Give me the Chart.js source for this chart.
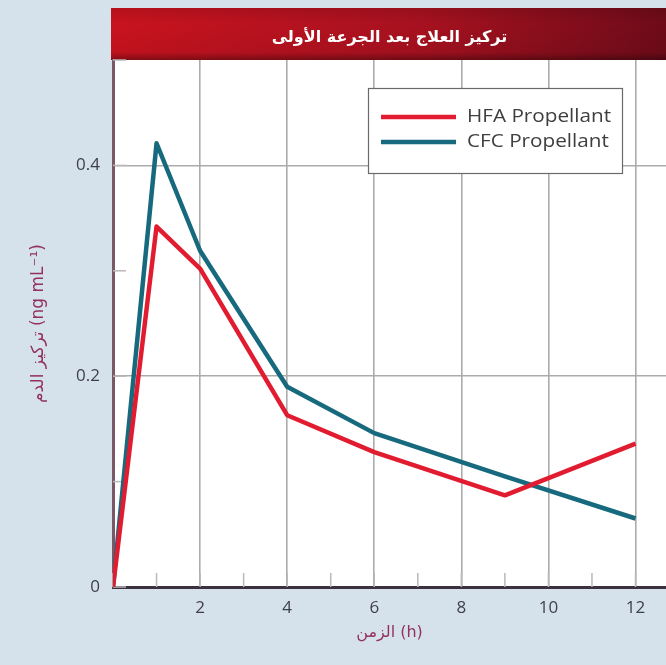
<!DOCTYPE html>
<html>
<head>
<meta charset="utf-8">
<script src="https://cdn.jsdelivr.net/npm/chart.js@4.4.1/dist/chart.umd.min.js"></script>
<style>
html, body { margin: 0; padding: 0; background: #d5e2ec; }
</style>
</head>
<body>
<canvas id="concChart" width="666" height="665"></canvas>
<script>
// values
var hours = [0, 1, 2, 4, 6, 9, 12];
var hfaValues = [0, 0.342, 0.302, 0.163, 0.128, 0.087, 0.136];
var cfcValues = [0, 0.421, 0.319, 0.19, 0.146, 0.105, 0.065];
var seriesNames = ["HFA Propellant", "CFC Propellant"];
var seriesColors = ["#e21c30", "#17697d"];
var xTickLabels = [2, 4, 6, 8, 10, 12];
var yTickLabels = [0, 0.2, 0.4];
var chartTitle = "تركيز العلاج بعد الجرعة الأولى";
var xTitle = "الزمن (h)";
var yTitle = "تركيز الدم (ng mL⁻¹)";

function toPoints(xs, ys) {
    return xs.map(function (x, i) { return { x: x, y: ys[i] }; });
}

function isLabelled(list, v) {
    return list.some(function (t) { return Math.abs(t - v) < 1e-9; });
}

var framePlugin = {
    id: "frame",
    beforeDraw: function (chart) {
        var c = chart.ctx, a = chart.chartArea;
        c.save();
        c.fillStyle = "#d5e2ec";
        c.fillRect(0, 0, chart.width, chart.height);
        c.fillStyle = "#ffffff";
        c.fillRect(a.left, a.top, a.right - a.left, a.bottom - a.top);

        // red title bar
        var g = c.createLinearGradient(a.left, 0, chart.width, 0);
        g.addColorStop(0, "#c9131f");
        g.addColorStop(0.55, "#a8111f");
        g.addColorStop(1, "#6f0b19");
        c.fillStyle = g;
        c.fillRect(a.left - 2, 8, chart.width - a.left + 2, a.top - 8);
        var v = c.createLinearGradient(0, 8, 0, a.top);
        v.addColorStop(0, "rgba(0,0,0,0.1)");
        v.addColorStop(0.3, "rgba(0,0,0,0)");
        v.addColorStop(0.85, "rgba(0,0,0,0.05)");
        v.addColorStop(1, "rgba(0,0,0,0.35)");
        c.fillStyle = v;
        c.fillRect(a.left - 2, 8, chart.width - a.left + 2, a.top - 8);

        c.fillStyle = "#ffffff";
        c.font = "bold 16px 'DejaVu Sans'";
        c.textAlign = "center";
        c.textBaseline = "middle";
        c.fillText(chartTitle, (a.left + chart.width) / 2, 38);
        c.restore();
    },
    beforeDatasetsDraw: function (chart) {
        // short inner tick marks along both axes
        var c = chart.ctx, a = chart.chartArea;
        var xs = chart.scales.x, ys = chart.scales.y;
        c.save();
        c.strokeStyle = "#b9b9b9";
        c.lineWidth = 1.5;
        xs.ticks.forEach(function (t) {
            var px = xs.getPixelForValue(t.value);
            c.beginPath();
            c.moveTo(px, a.bottom);
            c.lineTo(px, a.bottom - 14);
            c.stroke();
        });
        ys.ticks.forEach(function (t) {
            var py = ys.getPixelForValue(t.value);
            c.beginPath();
            c.moveTo(a.left, py);
            c.lineTo(a.left + 13, py);
            c.stroke();
        });
        c.restore();
    },
    afterDatasetsDraw: function (chart) {
        // legend box inside the plot
        var c = chart.ctx;
        c.save();
        c.fillStyle = "#ffffff";
        c.fillRect(368, 88, 254, 85);
        c.strokeStyle = "#6a6a6a";
        c.lineWidth = 1.2;
        c.strokeRect(368.5, 88.5, 254, 85);
        chart.data.datasets.forEach(function (ds, i) {
            var y = 117 + i * 25;
            c.strokeStyle = ds.borderColor;
            c.lineWidth = 4.5;
            c.beginPath();
            c.moveTo(381, y);
            c.lineTo(456, y);
            c.stroke();
            c.save();
            c.translate(467, y);
            c.scale(1.15, 1);
            c.fillStyle = "#3f3f3f";
            c.font = "18px 'Open Sans'";
            c.textBaseline = "middle";
            c.fillText(ds.label, 0, 0);
            c.restore();
        });
        c.restore();
    }
};

var ctx = document.getElementById("concChart").getContext("2d");
var concChart = new Chart(ctx, {
    type: "line",
    data: {
        datasets: [{
            label: seriesNames[0],
            data: toPoints(hours, hfaValues),
            borderColor: seriesColors[0],
            borderWidth: 4.5,
            pointRadius: 0,
            tension: 0,
            borderJoinStyle: "round"
        }, {
            label: seriesNames[1],
            data: toPoints(hours, cfcValues),
            borderColor: seriesColors[1],
            borderWidth: 4.5,
            pointRadius: 0,
            tension: 0,
            borderJoinStyle: "round"
        }]
    },
    options: {
        responsive: false,
        animation: false,
        devicePixelRatio: 1,
        layout: { padding: { top: 60, left: 0, right: 0, bottom: 0 } },
        plugins: {
            legend: { display: false },
            tooltip: { enabled: false }
        },
        scales: {
            x: {
                type: "linear",
                min: 0,
                max: 12.7,
                afterFit: function (s) { s.height = 78; },
                afterBuildTicks: function (s) {
                    var t = [];
                    for (var v = 0; v <= 12; v++) t.push({ value: v });
                    s.ticks = t;
                },
                ticks: {
                    autoSkip: false,
                    maxRotation: 0,
                    padding: 11,
                    color: "#3f3f48",
                    font: { family: "'Open Sans'", size: 17 },
                    callback: function (v) { return isLabelled(xTickLabels, v) ? String(v) : ""; }
                },
                grid: {
                    drawTicks: false,
                    lineWidth: 1.6,
                    color: function (c) {
                        return c.tick && isLabelled(xTickLabels, c.tick.value) ? "#ababab" : "rgba(0,0,0,0)";
                    }
                },
                border: { color: "#3d3140", width: 3 },
                title: {
                    display: true,
                    text: xTitle,
                    color: "#93305e",
                    font: { family: "'DejaVu Sans'", size: 16 },
                    padding: { top: 0, bottom: 23 }
                }
            },
            y: {
                min: 0,
                max: 0.5,
                afterFit: function (s) { s.width = 113; },
                ticks: {
                    stepSize: 0.1,
                    autoSkip: false,
                    padding: 13,
                    color: "#3f3f48",
                    font: { family: "'Open Sans'", size: 17 },
                    callback: function (v) { return isLabelled(yTickLabels, v) ? String(Math.round(v * 10) / 10) : ""; }
                },
                grid: {
                    drawTicks: false,
                    lineWidth: 1.6,
                    color: function (c) {
                        return c.tick && c.tick.value > 0 && isLabelled(yTickLabels, c.tick.value) ? "#ababab" : "rgba(0,0,0,0)";
                    }
                },
                border: { color: "#7a5868", width: 3 },
                title: {
                    display: true,
                    text: yTitle,
                    color: "#93305e",
                    font: { family: "'DejaVu Sans'", size: 17 },
                    padding: { top: 28, bottom: 0 }
                }
            }
        }
    },
    plugins: [framePlugin]
});
</script>
</body>
</html>
